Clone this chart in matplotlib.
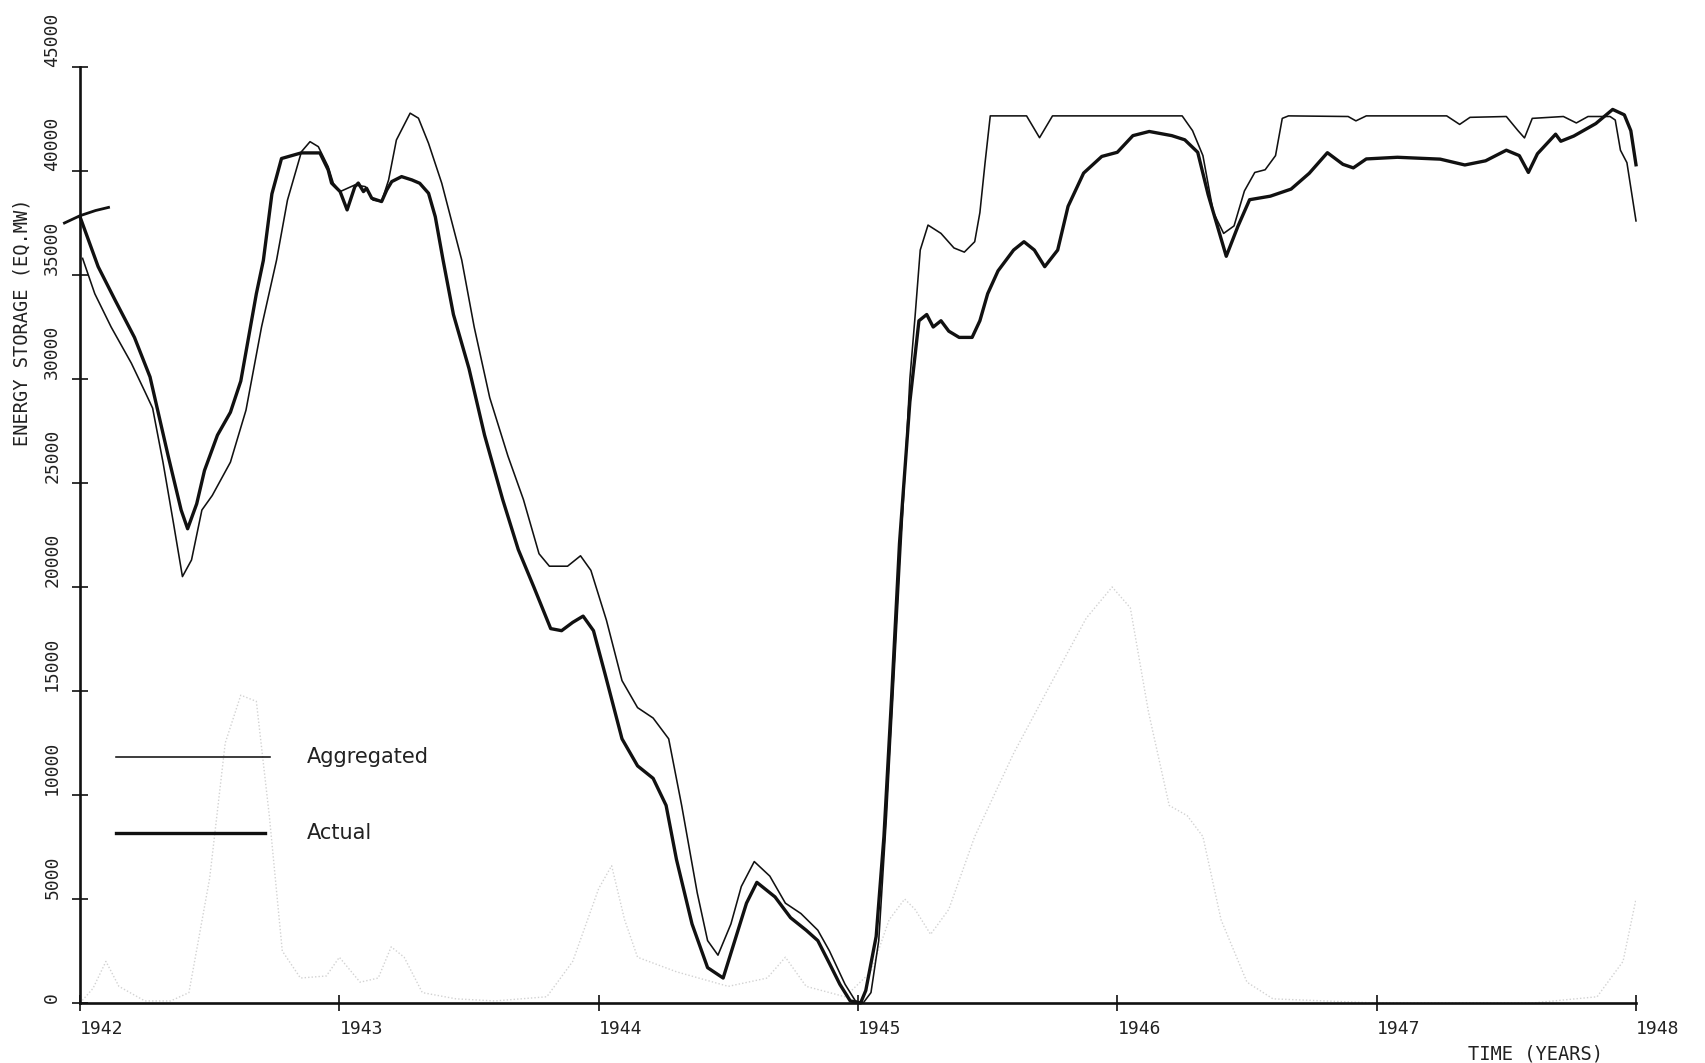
import matplotlib
matplotlib.use("Agg")
import matplotlib.pyplot as plt

# ---------------- data ----------------
act_t = [1942.00, 1942.07, 1942.135, 1942.21, 1942.27, 1942.34, 1942.39, 1942.415, 1942.45, 1942.48,
         1942.53, 1942.58, 1942.62, 1942.68, 1942.707, 1942.74, 1942.777, 1942.853, 1942.925, 1942.957,
         1942.97, 1943.003, 1943.03, 1943.06, 1943.073, 1943.093, 1943.105, 1943.125, 1943.163, 1943.183,
         1943.202, 1943.24, 1943.28, 1943.31, 1943.344, 1943.37, 1943.40, 1943.44, 1943.50, 1943.56,
         1943.63, 1943.69, 1943.75, 1943.815, 1943.857, 1943.90, 1943.94, 1943.98, 1944.025, 1944.09,
         1944.15, 1944.21, 1944.26, 1944.30, 1944.36, 1944.42, 1944.48, 1944.53, 1944.57, 1944.61,
         1944.68, 1944.74, 1944.80, 1944.845, 1944.89, 1944.93, 1944.97, 1945.01, 1945.03, 1945.07,
         1945.10, 1945.13, 1945.16, 1945.20, 1945.235, 1945.265, 1945.29, 1945.32, 1945.35, 1945.39,
         1945.44, 1945.47, 1945.50, 1945.54, 1945.60, 1945.64, 1945.68, 1945.72, 1945.77, 1945.81,
         1945.87, 1945.94, 1946.00, 1946.06, 1946.123, 1946.21, 1946.26, 1946.31, 1946.35, 1946.42,
         1946.465, 1946.51, 1946.59, 1946.67, 1946.74, 1946.81, 1946.87, 1946.91, 1946.96, 1947.08,
         1947.245, 1947.34, 1947.42, 1947.50, 1947.55, 1947.585, 1947.62, 1947.69, 1947.71, 1947.76,
         1947.845, 1947.91, 1947.955, 1947.98, 1948.00]
act_v = [37800, 35400, 33800, 32000, 30100, 26300, 23700, 22800, 24000, 25600,
         27300, 28400, 29900, 34100, 35700, 38900, 40600, 40870, 40870, 40050,
         39420, 39010, 38130, 39250, 39420, 39010, 39170, 38690, 38530, 39090,
         39490, 39730, 39570, 39410, 38930, 37800, 35720, 33100, 30500, 27300,
         24200, 21800, 20000, 18000, 17900, 18300, 18600, 17900, 15800, 12700,
         11400, 10800, 9500, 6900, 3800, 1700, 1200, 3200, 4800, 5800,
         5100, 4100, 3500, 3000, 1900, 900, 100, 0, 600, 3200,
         8000, 14800, 22100, 28900, 32800, 33100, 32500, 32800, 32300, 32000,
         32000, 32800, 34100, 35200, 36200, 36600, 36200, 35400, 36200, 38300,
         39900, 40700, 40900, 41700, 41900, 41700, 41500, 40900, 38870, 35900,
         37340, 38620, 38790, 39130, 39890, 40880, 40320, 40150, 40580, 40660,
         40570, 40290, 40490, 41000, 40740, 39930, 40830, 41770, 41430, 41680,
         42280, 42960, 42700, 41940, 40300]

agg_t = [1942.01, 1942.057, 1942.12, 1942.198, 1942.25, 1942.28, 1942.32, 1942.36, 1942.395, 1942.43,
         1942.47, 1942.51, 1942.58, 1942.64, 1942.70, 1942.758, 1942.80, 1942.854, 1942.887, 1942.919,
         1942.957, 1942.977, 1943.003, 1943.06, 1943.10, 1943.13, 1943.163, 1943.19, 1943.22, 1943.273,
         1943.305, 1943.344, 1943.395, 1943.472, 1943.52, 1943.58, 1943.65, 1943.71, 1943.77, 1943.81,
         1943.88, 1943.93, 1943.97, 1944.03, 1944.09, 1944.15, 1944.21, 1944.27, 1944.32, 1944.38,
         1944.42, 1944.46, 1944.51, 1944.55, 1944.60, 1944.66, 1944.72, 1944.78, 1944.845, 1944.89,
         1944.95, 1944.99, 1945.02, 1945.05, 1945.08, 1945.11, 1945.14, 1945.17, 1945.20, 1945.22,
         1945.24, 1945.27, 1945.32, 1945.37, 1945.41, 1945.45, 1945.47, 1945.49, 1945.51, 1945.65,
         1945.70, 1945.75, 1946.25, 1946.29, 1946.33, 1946.37, 1946.41, 1946.45, 1946.49, 1946.53,
         1946.57, 1946.61, 1946.636, 1946.66, 1946.89, 1946.92, 1946.96, 1947.27, 1947.32, 1947.36,
         1947.50, 1947.545, 1947.57, 1947.60, 1947.72, 1947.77, 1947.815, 1947.90, 1947.92, 1947.94,
         1947.965, 1948.00]
agg_v = [35800, 34100, 32500, 30760, 29400, 28600, 26000, 23100, 20500, 21300,
         23700, 24400, 26000, 28500, 32500, 35720, 38600, 40930, 41410, 41170,
         40210, 39410, 39010, 39330, 39250, 38600, 38530, 39570, 41490, 42780,
         42540, 41330, 39410, 35720, 32500, 29100, 26300, 24200, 21600, 21000,
         21000, 21500, 20800, 18400, 15500, 14200, 13700, 12700, 9500, 5300,
         3000, 2300, 3800, 5600, 6800, 6100, 4800, 4300, 3500, 2500,
         900, 100, 0, 500, 3000, 9000, 16000, 23000, 30000, 33000,
         36200, 37400, 37000, 36300, 36100, 36600, 38000, 40400, 42650, 42650,
         41600, 42650, 42650, 41940, 40740, 38020, 37000, 37360, 39040, 39930,
         40060, 40740, 42530, 42650, 42620, 42410, 42650, 42650, 42240, 42580,
         42620, 41940, 41590, 42530, 42620, 42310, 42620, 42620, 42450, 41000,
         40400, 37600]

# short pen stroke at the start of the actual curve
hook_t = [1941.94, 1942.00, 1942.06, 1942.11]
hook_v = [37500, 37850, 38100, 38250]

# faint show-through curve from the reverse side of the sheet
ghost_t = [1942.0, 1942.05, 1942.1, 1942.15, 1942.25, 1942.35, 1942.42, 1942.5, 1942.56, 1942.62,
           1942.68, 1942.73, 1942.78, 1942.85, 1942.95, 1943.0, 1943.08, 1943.15, 1943.2, 1943.25,
           1943.32, 1943.45, 1943.6, 1943.8, 1943.9, 1944.0, 1944.05, 1944.1, 1944.15, 1944.3,
           1944.5, 1944.65, 1944.72, 1944.8, 1944.95, 1945.05, 1945.12, 1945.18, 1945.22, 1945.28,
           1945.35, 1945.45, 1945.6, 1945.75, 1945.88, 1945.98, 1946.05, 1946.12, 1946.2, 1946.27,
           1946.33, 1946.4, 1946.5, 1946.6, 1947.0, 1947.6, 1947.85, 1947.95, 1948.0]
ghost_v = [0, 700, 2000, 800, 100, 100, 500, 6000, 12500, 14800,
           14500, 9000, 2500, 1200, 1300, 2200, 1000, 1200, 2700, 2200,
           500, 200, 100, 300, 2000, 5500, 6600, 4000, 2200, 1500,
           800, 1200, 2200, 800, 300, 1500, 4000, 5000, 4500, 3300,
           4500, 8000, 12000, 15500, 18500, 20000, 19000, 14000, 9500, 9000,
           8000, 4000, 1000, 200, 0, 0, 300, 2000, 5000]

x_ticks = [1942, 1943, 1944, 1945, 1946, 1947, 1948]
x_labels = ["1942", "1943", "1944", "1945", "1946", "1947", "1948"]
y_ticks = [0, 5000, 10000, 15000, 20000, 25000, 30000, 35000, 40000, 45000]
y_labels = [str(v) for v in y_ticks]
series_names = ["Aggregated", "Actual"]

# ---------------- figure ----------------
W, H = 1705, 1063
fig = plt.figure(figsize=(W / 100, H / 100), dpi=100)
fig.patch.set_facecolor("white")
x0, x1, y0, y1 = 80, 1636, 67, 1003
ax = fig.add_axes([x0 / W, 1 - y1 / H, (x1 - x0) / W, (y1 - y0) / H])
ax.set_xlim(1942, 1948)
ax.set_ylim(0, 45000)

ink = "#111111"
txt = "#222222"
mono = "DejaVu Sans Mono"

ax.plot(ghost_t, ghost_v, color="#d2d2d2", lw=1.0, ls=(0, (1, 1.5)), zorder=1)
ax.plot(agg_t, agg_v, color=ink, lw=1.15, zorder=3, clip_on=False, solid_joinstyle="round")
ax.plot(act_t, act_v, color=ink, lw=2.4, zorder=4, clip_on=False, solid_joinstyle="round")
ax.plot(hook_t, hook_v, color=ink, lw=2.0, zorder=4, clip_on=False)

for s in ["top", "right"]:
    ax.spines[s].set_visible(False)
for s in ["left", "bottom"]:
    ax.spines[s].set_linewidth(1.9)
    ax.spines[s].set_color(ink)

ax.set_xticks(x_ticks)
ax.set_xticklabels(x_labels, ha="left", fontfamily=mono, fontsize=13, color=txt)
ax.set_yticks(y_ticks)
ax.set_yticklabels(y_labels, rotation=90, va="bottom", ha="right",
                   fontfamily=mono, fontsize=13, color=txt)
ax.tick_params(axis="x", direction="inout", length=11, width=1.2, pad=7, colors=ink)
ax.tick_params(axis="y", direction="inout", length=11, width=1.2, pad=8, colors=ink)
for lbl in ax.get_xticklabels() + ax.get_yticklabels():
    lbl.set_color(txt)

# axis titles
fig.text(22 / W, 1 - 322 / H, "ENERGY STORAGE (EQ.MW)", rotation=90, ha="center", va="center",
         fontfamily=mono, fontsize=13.5, color=txt)
fig.text(1535 / W, 1 - 1054 / H, "TIME (YEARS)", ha="center", va="center",
         fontfamily=mono, fontsize=13.5, color=txt)

# legend drawn by hand as in the plotter original
ax.plot([0.023, 0.122], [0.263, 0.263], transform=ax.transAxes, color=ink, lw=1.15)
ax.plot([0.023, 0.119], [0.182, 0.182], transform=ax.transAxes, color=ink, lw=2.4)
ax.text(0.146, 0.263, series_names[0], transform=ax.transAxes, ha="left", va="center",
        fontsize=15, color=txt)
ax.text(0.146, 0.182, series_names[1], transform=ax.transAxes, ha="left", va="center",
        fontsize=15, color=txt)

fig.savefig("out.png", dpi=100, facecolor="white")
